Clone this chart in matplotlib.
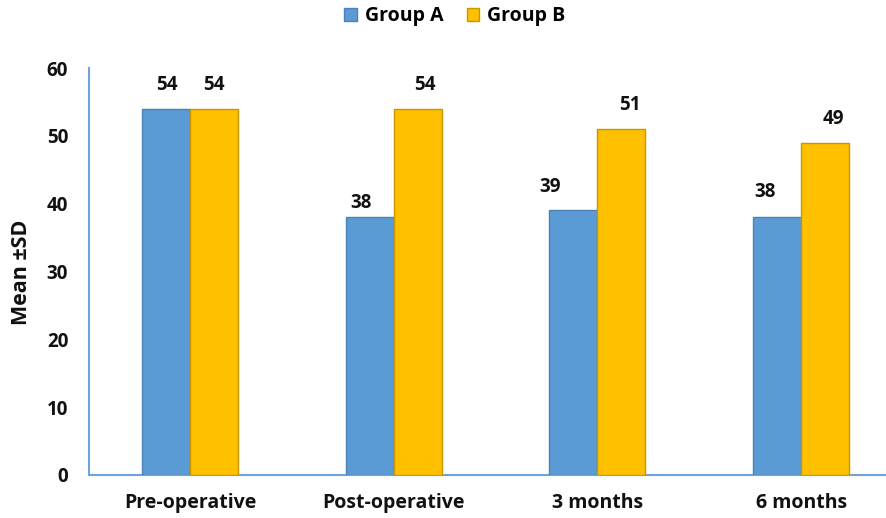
import matplotlib
matplotlib.use("Agg")
import matplotlib.pyplot as plt
import numpy as np
from matplotlib.patches import Patch

categories = ["Pre-operative", "Post-operative", "3 months", "6 months"]
group_a = [54, 38, 39, 38]
group_b = [54, 54, 51, 49]
series_names = ["Group A", "Group B"]
y_ticks = [0, 10, 20, 30, 40, 50, 60]

# label offsets in points (dx, dy) — manual placement like the original
off_a = [(1, 17), (-6, 10), (-17, 17), (-9, 18)]
off_b = [(0, 17), (5, 17), (6, 17), (6, 17)]

plt.rcParams['font.family'] = ['Open Sans', 'DejaVu Sans']

fig = plt.figure(figsize=(8.87, 5.18), dpi=100)
ax = fig.add_axes([89/887, 43/518, 1 - 89/887, (475-68)/518])

blue = "#5B9BD5"
gold = "#FFC000"
x = np.arange(len(categories))
w = 0.236
ba = ax.bar(x - w/2, group_a, w, color=blue, edgecolor="#4A82B8", linewidth=1.0, zorder=3)
bb = ax.bar(x + w/2, group_b, w, color=gold, edgecolor="#C99600", linewidth=1.0, zorder=3)

for rect, v, (dx, dy) in zip(ba, group_a, off_a):
    ax.annotate(str(v), (rect.get_x() + rect.get_width()/2, v), xytext=(dx, dy),
                textcoords="offset points", ha="center", va="center",
                fontsize=13.5, fontweight="bold", color="#111111")
for rect, v, (dx, dy) in zip(bb, group_b, off_b):
    ax.annotate(str(v), (rect.get_x() + rect.get_width()/2, v), xytext=(dx, dy),
                textcoords="offset points", ha="center", va="center",
                fontsize=13.5, fontweight="bold", color="#111111")

ax.set_ylim(0, 60)
ax.set_yticks(y_ticks)
ax.set_xlim((0 - 101/203.7), (0 + 697/203.7))
ax.set_xticks(x)
ax.set_xticklabels(categories, fontsize=14, fontweight="bold")
for lab in ax.get_yticklabels():
    lab.set_fontsize(13.5)
    lab.set_fontweight("bold")
ax.tick_params(axis="both", length=0, colors="#111111")
ax.tick_params(axis="y", pad=15)
ax.tick_params(axis="x", pad=13)

for s in ["top", "right"]:
    ax.spines[s].set_visible(False)
for s in ["left", "bottom"]:
    ax.spines[s].set_color("#6FA3D9")
    ax.spines[s].set_linewidth(1.5)

ax.set_ylabel("Mean ±SD", fontsize=15.5, fontweight="bold", color="#111111")
ax.yaxis.set_label_coords(-57/798, 0.497)

handles = [Patch(facecolor=blue, edgecolor="#4A82B8"), Patch(facecolor=gold, edgecolor="#C99600")]
fig.legend(handles, series_names, loc="center", bbox_to_anchor=(455/887, 1 - 16/518),
           ncol=2, frameon=False, prop={"weight": "bold", "size": 14},
           handlelength=0.65, handleheight=0.65, handletextpad=0.4, columnspacing=1.2)

fig.savefig("out.png", dpi=100)
